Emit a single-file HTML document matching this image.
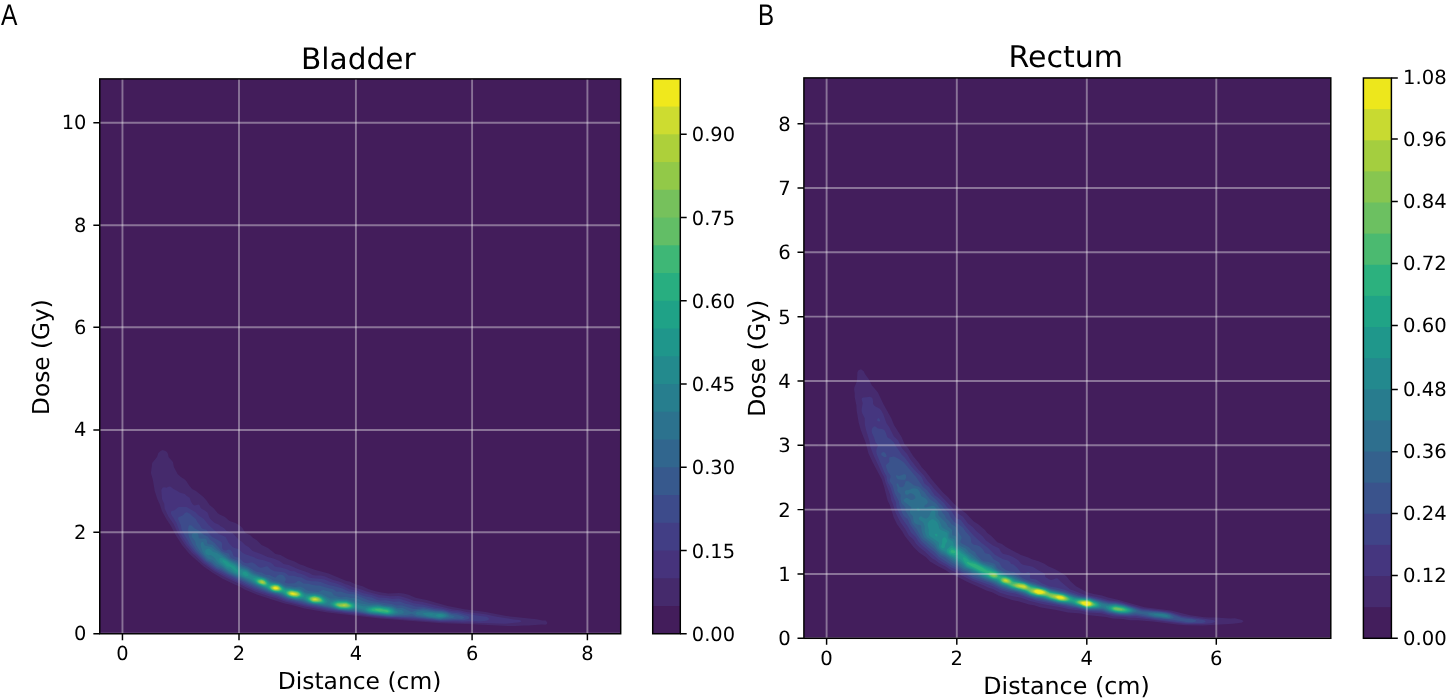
<!DOCTYPE html>
<html lang="en"><head><meta charset="utf-8"><title>Bladder / Rectum dose-distance</title>
<style>html,body{margin:0;padding:0;background:#fff;overflow:hidden}svg{display:block;will-change:transform}</style></head>
<body>
<svg width="1447" height="698" viewBox="0 0 1447 698" font-family="'DejaVu Sans','Liberation Sans',sans-serif" fill="#000" text-rendering="geometricPrecision">
<defs>
<clipPath id="clipA"><rect x="99.75" y="78.90" width="520.95" height="554.86"/></clipPath>
<clipPath id="clipB"><rect x="803.90" y="77.90" width="526.90" height="560.40"/></clipPath>
</defs>
<rect width="1447" height="698" fill="#fff"/>
<rect x="99.75" y="78.90" width="520.95" height="554.86" fill="#431d5b"/>
<g clip-path="url(#clipA)" shape-rendering="geometricPrecision">
<path fill="#452a6c" d="M160.5,450.9 162.6,450.1 165.6,451 166.9,451.9 168,453.9 168.6,456.9 172.9,461.9 173.9,466.9 177.6,473.9 180.9,476.9 184.1,478.9 186.3,480.9 188.8,484.9 192.1,488.9 195.6,490.8 203.5,496.9 206.9,500.9 209.6,505 213.6,508.2 217.6,513 219.6,514.5 224.6,516.7 229.6,521 235.6,522.9 240.4,525.9 242.5,527.9 244.6,531.8 245.6,532.9 250.1,534.9 252.6,537.6 256.6,540.1 261.6,545 268,547.9 275.6,553.9 280.6,555.1 287.6,559.1 294.6,561.5 299.6,564.2 303.6,565.5 307.6,567.3 315.6,570 328.6,573.6 346.6,580.9 349.6,581.6 355.6,584.2 362.6,586.3 368.3,588.9 374.6,591 381.6,592.5 388.6,593.4 398.6,593 403.6,593.4 408.6,594.8 415.6,597.8 426.6,600.1 447.7,605.9 464.6,609.2 485.6,612.1 506.6,616 536.6,619.3 542.6,620.5 545.6,620.6 547,621.9 547.3,622.9 546.9,623.9 545.6,624.8 541.6,624.4 528.6,625.5 523.6,625.4 515.6,626 507.6,626.1 472.6,624.2 441.6,623.3 379.6,618.6 327.6,612.4 304.6,608.5 291.9,604.9 284.6,603.4 269.6,598.8 256.6,594.4 244.6,589.5 239.6,586.6 234.6,584.6 222.6,578.8 212.6,572.7 203.6,566.5 189.5,553.9 182,544.9 175.6,534.9 170.9,525.9 166.3,518.9 161.9,510.9 160,504.9 157.3,498.9 154.7,490.9 152.9,479.9 150.9,472.9 152.2,462.9 157,456.9 158.3,452.9Z"/>
<path fill="#46337c" d="M167.8,486.9 169.6,486.4 170.6,486.7 173.6,489.1 177.5,490.9 179.6,492.4 184.8,493.9 186.6,495.7 189.6,497.7 191.2,501.9 192.5,503.9 193.6,504.9 194.6,505.4 195.6,505.3 198.6,504.5 199.4,504.9 200.7,507.9 201.6,508.8 205.6,511 207.6,512.8 209.6,517.9 211.6,520.3 214.9,522.9 218.6,524.6 220.6,526.3 223.9,527.9 226.7,530.9 232.6,532.9 239.1,539.9 241.6,541.6 245.1,544.9 248.6,546.9 252.6,550.9 261.6,554.2 267.6,557 273.6,558.5 279.6,560.9 283.6,563.9 288.8,564.9 297.9,568.9 308.6,572.8 312.6,574.9 315.6,575.4 320.6,575.5 324.6,576.3 332.6,579.8 340.6,582 345.6,584.3 348.6,585.1 352.7,586.9 360.6,589.2 366.6,591.6 379.6,595.1 390.6,596.3 397.6,596 400.6,596.3 408.6,598.8 413.6,600.8 422.6,602.1 451.6,609.2 459.6,610.2 466.6,611.9 485.6,614.3 496.6,616.8 508.6,618.4 513.6,619.6 519.6,619.9 521.5,620.9 520.7,621.9 519.6,622.2 505.6,623.8 490.6,623.2 478.6,623.1 472.6,622.6 463.6,622.7 440.6,622.1 379.6,617.4 327.6,610.9 312.6,607.9 306.6,607.1 285.6,601.7 275.6,598 269.6,596.5 255.6,591.7 244.6,586.8 240.6,584.6 225.6,577.6 214.6,571.5 202.6,562.9 195.6,555.9 192,552.9 185.6,545.5 178.7,534.9 173.6,524 168.6,516.9 164.6,508.4 164.3,503.9 162,498.9 161.3,489.9 162.6,487.5 164.6,487.2 166.6,487.8Z"/>
<path fill="#423e85" d="M177.2,507.9 178.6,507.1 186.6,507.1 195.3,511.9 198.6,515.5 203.6,518.8 208.7,524.9 218.5,533.9 223.7,535.9 225.6,537.1 228.8,542.9 232.6,546.9 234.6,548 238.6,548.9 242.6,552.7 244.6,554 253.5,556.9 257.6,559.1 263.6,560.2 270.6,562.4 272.6,563.9 274.3,565.9 275.6,566.7 280.6,567.5 285.6,568.8 290.6,570.9 294.6,571.2 297.6,572.9 301.6,573.9 304.2,574.9 309.6,577.8 321.6,578.9 324.6,579.6 330.6,582 335.6,583.3 343.6,586.3 349.6,589.2 356.6,590.6 362.6,593.1 371.6,595.1 378.6,597.6 386.6,598.1 392.6,599.1 397.6,598.5 399.6,598.7 413.6,603.3 423.6,604.8 435.6,607.7 441.6,608.4 451.6,611.1 458.6,611.6 463.6,613.1 476.6,615.5 486.6,616.8 488.6,617.9 489,618.9 488.3,619.9 486.6,620.8 479.6,621.5 472.6,620.8 462.6,621.5 456.6,621.1 440.6,621.2 413.6,618.8 397.6,617.7 389.6,617.6 369.6,615.5 354.6,613.1 346.6,612.4 326.6,609.7 321.6,608.4 306.6,605.8 286.6,600.7 277.3,596.9 270.6,595.1 260.6,591.7 254.6,589.5 245.6,585.4 227.6,576.7 215.6,570.4 205,562.9 197.6,555.5 193.6,552 187,543.9 180.6,533.9 176.4,522.9 171,513.9 170.9,511.9 171.6,511.1 174.6,510.2Z"/>
<path fill="#3d4b8b" d="M185,512.9 186.6,512.3 187.6,512.5 190.2,513.9 191.6,515.5 195.9,518.9 197.3,521.9 199.8,524.9 201.6,528.1 203,528.9 206.6,529.7 208.3,532.9 211.6,536.6 221.4,541.9 222.1,543.9 222,547.9 223.5,549.9 225.6,550.4 228.6,549.6 230.6,550.1 232.2,551.9 233.6,556 235.3,556.9 238.6,557.5 243.3,561.9 244.6,562.7 247.6,563.3 250.6,562.6 252.6,562.6 255.1,563.9 258.7,566.9 260.6,567.7 262.6,567.6 266.6,566.2 267.6,566.6 270.6,569.3 274.6,571.3 283.6,572.2 285.6,573.1 288.6,575.4 290.6,575.8 293.6,575.7 297.5,576.9 301.6,577.5 306.6,580.3 311.6,581.2 315.6,581.2 320.6,582.1 328.6,585 333.6,585.9 342.6,588.5 348.6,591.4 354.6,592.2 360.6,594.8 365.6,596.4 371.6,597.5 377.3,599.9 380.6,600.4 385.6,600.2 393.6,601.8 399.6,601.4 405.6,603.7 409.6,604.5 415.6,606.5 423.6,606.7 434.6,609.1 443.6,610.1 451.6,612.5 458.6,613.2 467.8,615.9 469.2,616.9 469.4,617.9 468.5,618.9 467.6,619.3 463.6,620.3 456.6,620.1 440.6,620.5 412.6,617.6 396.6,616.9 390.6,617.1 370.6,614.9 355.6,612.3 346.6,611.7 337.6,610.5 307.6,605 286.6,599.5 278.1,595.9 268.6,593.2 254.6,587.9 245.6,583.8 240.6,581 236.6,579.5 232,576.9 227.6,575.1 222.2,571.9 215.6,568.8 204.8,560.9 195.6,551.8 189.5,543.9 187.6,539.9 184.9,535.9 181.7,529.9 180.8,524.9 178.4,519.9 178,517.9 178.9,516.9 182.6,515.6Z"/>
<path fill="#37598d" d="M189.8,524.9 191.6,525.4 194.1,527.9 199.7,530.9 203.6,534.4 207.6,536.5 210.6,540 214.6,543 221.7,550.9 224.6,552.6 228.6,553.4 229.2,553.9 230.3,556.9 231.6,558.1 233.6,559.1 237.6,560.4 242.6,564.7 247.6,566.5 255.6,571.2 257.6,572 261.6,572.4 265.6,574.7 269.6,575 274.6,577.5 275.6,577.4 277.6,575.6 279.6,574.6 282.6,575 284,575.9 285.5,577.9 285.8,579.9 284.7,581.9 285.6,583 288.6,583.6 294.6,583.2 297.6,581.3 299.6,580.9 303.6,583.4 308.6,583.7 311.6,584.7 316.6,585.5 319.6,585.4 328.6,588.3 331.6,588.7 333.6,589.6 336.6,591.7 340.6,591.5 345.6,593.2 349.6,594.1 353.6,594.2 368.6,600.3 374.6,601.6 391.6,603.9 396.6,605.6 401.6,605.3 412.6,608.7 415.6,608.9 423.6,608.3 434.6,610.3 442.6,610.9 445.6,611.6 451.6,613.8 456.6,614.5 461.7,615.9 464.1,616.9 464.3,617.9 461.8,618.9 457.6,618.8 440.6,619.9 417.6,617.3 412.6,616.2 405.6,616.5 396.6,616.2 391.6,616.5 386.6,616.2 370.6,614.4 355.6,611.4 347.6,611.2 338.6,610.1 321.6,606.5 308.6,604.3 301.6,602.1 286.6,598.6 279.6,595.4 268.6,592.2 254.6,586.4 241.3,579.9 236.6,578.1 232.6,575.9 227.6,573.8 221.6,570 216.6,567.9 210.6,563.1 206.6,560.9 196.4,549.9 191.9,542.9 189.4,537.9 188.4,534.9 188,528.9 188.6,526Z"/>
<path fill="#31668e" d="M193.4,532.9 196.6,532.7 197.6,533.3 198.4,534.9 198.8,537.9 199.6,538.5 204.6,538.4 206,538.9 206.8,539.9 207.2,542.9 208,543.9 212.6,544.7 216.8,548.9 222.6,553.2 226.6,555.6 230.3,558.9 236.9,561.9 241.6,566.1 247.6,568.2 255.2,572.9 268.6,577.7 273.6,580.7 279.6,582.1 285.6,585.6 291.6,586.2 294.6,587 298.6,586.5 300.6,586.7 303.7,587.9 305.9,589.9 308.6,591 318.6,591.9 322.6,590.1 323.6,590 326.6,591.1 331.5,591.9 333.6,594.9 334.6,595.6 339.2,596.9 341.6,597.3 346.6,596.7 350.6,598.1 354.6,598 358.6,599 362.6,601.1 369.6,603.1 378.6,603.6 384.6,604.9 391.6,605.6 397.4,607.9 402.6,608.1 411.6,611.9 416.6,610.3 422.6,609.6 435.6,611.3 441.6,611.6 446.6,612.8 451.6,615.3 453.9,615.9 454.8,616.9 452.6,617.9 440.6,619.3 417.6,616.3 415.9,615.9 411.6,613.7 408.6,614.8 406.6,615.1 396.6,615.4 391.6,615.9 386.6,615.7 370.6,613.9 356.6,610.7 347.6,610.6 338.6,609.7 330.6,607.5 311.6,604.2 307.6,603.3 301.6,601 296.6,600.3 288.6,598.4 280.6,594.8 270.6,592.3 255.6,585.7 241.6,578.7 237.6,577.3 228.6,573.1 221.6,568.5 216,565.9 211.6,561.9 208.6,560.6 206.6,559.2 200.4,551.9 196,544.9 195,540.9 191.9,536.9 191.6,535.9 191.8,533.9Z"/>
<path fill="#2c728e" d="M201.6,541.9 202.6,541.8 203.6,542.4 204.4,544.9 205.6,545.7 211.6,546.9 214.6,549.8 218.6,552 230.6,560.4 236.6,563.3 240.6,567.1 247.6,569.4 252.3,572.9 254.4,573.9 266.6,578.1 271.6,581.4 279.6,583.2 285.6,586.8 299.6,588.6 301.6,589.5 305,591.9 307.6,592.8 314.6,593 321.6,594.1 330.6,598.5 335.6,598.3 341.6,599.1 346.6,599 355.6,601.4 358.9,602.9 362.6,603.7 369.6,604.7 378.6,604.6 384.5,605.9 390.6,606.5 393.6,607.4 397.6,609.5 401.7,609.9 403.2,610.9 403.9,611.9 403.8,612.9 401.6,614 392.6,615.3 387.6,615.3 370.6,613.4 356.6,609.6 348.6,610.2 339.6,609.4 335.6,608.5 328.6,606.2 310.6,603.5 302.6,600.3 295.6,599.5 290.6,598.4 286.6,597.1 280.6,594 271.6,592.1 265.4,588.9 256.6,585.3 248.6,580.9 241.6,577.6 237.6,576.2 228.6,571.8 221.6,566.8 216.6,564.1 212.6,560 209,558.9 207.6,558.1 204.5,554.9 202.2,550.9 200.6,544.9 200.9,542.9ZM416.7,611.9 422.6,610.9 435.6,612.2 441.6,612.4 446.6,613.7 448.3,614.9 449,615.9 448.6,616.9 446.6,617.6 441.6,618.6 438.6,618.5 429.6,617.4 421.6,615.6 417.6,615.1 415.8,613.9 415.7,612.9Z"/>
<path fill="#277e8e" d="M206.8,548.9 208.6,548.6 210,548.9 212.6,551.5 216.8,552.9 226.6,558.7 230.6,561.5 235.5,563.9 240.6,568.5 246.6,570 251.6,573.8 253.6,574.8 265.6,578.4 270.6,582.1 279.6,584 285.6,587.7 298.6,589.4 300.6,590.2 304.6,593.1 306.6,593.8 313.6,593.8 319.6,594.6 321.6,595.3 329.6,600.1 330.6,600.4 336.6,599.5 346.6,600.1 353.6,602.2 358.6,605.1 363.6,606.2 377.6,605.3 384.6,606.6 389.6,607.1 393.6,608.5 398.1,611.9 397.3,612.9 393.6,614.3 387.6,614.8 370.6,612.9 367.4,611.9 362.6,609.4 357.6,608.3 349.6,609.7 340.6,609.2 335.6,608.1 327.6,604.7 323.6,604.7 313.6,603.7 308.6,602.3 302.6,599.3 294.6,598.8 288.6,597.3 281.6,593.6 274.6,592.5 271.6,591.6 265.6,588.2 256.6,584.6 248.6,579.6 234.9,573.9 227.6,569.9 218.4,562.9 214.6,558 211.6,555.4 210.6,555.1 208.6,555.5 206.6,554.5 205.4,552.9 205.1,550.9 205.6,549.8ZM423.5,612.9 430.6,612.6 435.6,613.2 441.6,613.2 444.8,613.9 446.4,614.9 446.6,615.9 445.4,616.9 442.6,617.7 438.6,617.8 426.8,615.9 422.8,613.9Z"/>
<path fill="#238a8d" d="M220.1,557.9 222.6,558.1 225.6,559.3 230.6,562.8 235,564.9 239.6,569.5 241.6,570.3 244.6,570.5 246.6,571 250.6,574.6 252.6,575.7 261.6,577.5 264.6,578.6 266.9,579.9 270.4,582.9 278.6,584.1 280.6,585 285.6,588.5 290.6,588.7 299.6,590.5 305.6,594.8 314.6,594.4 320.6,595.7 325.6,598.9 327.3,600.9 327.4,601.9 325.6,603.5 323.6,604 313.6,603.3 309,601.9 303.6,598.5 295.6,598.5 291.6,597.7 287.6,596.4 281.7,592.9 275.6,592.3 271.6,591.2 266.5,587.9 256.6,583.9 249.6,578.6 244.6,576.9 240.6,574.7 235,572.9 230.6,569.4 226.6,567.8 220,561.9 219.4,560.9 219.1,558.9ZM334.1,600.9 337.6,600.3 346.6,600.8 353.6,603.2 354.7,603.9 356.1,605.9 355.8,606.9 354.5,607.9 350.6,609.1 345.6,609.2 338.6,608.5 334.1,606.9 331,604.9 330.2,603.9 330.1,602.9 330.6,602.5ZM368.7,606.9 377.6,606.1 388.6,607.6 392.6,608.9 394.7,610.9 395,611.9 394.4,612.9 392.6,613.8 388.6,614.4 370.6,612.3 367,610.9 365.8,609.9 365.4,608.9 365.9,607.9ZM429.1,614.9 430.6,614.2 433.6,614.9 431.6,615.2ZM435.4,614.9 438.6,614.1 440.6,614.1 443.8,614.9 444,615.9 441.6,616.9 438.6,616.9 436.1,615.9Z"/>
<path fill="#1f968b" d="M222.2,560.9 222.6,560.3 223.6,560.1 225.6,560.7 227.7,561.9 230.6,564.5 234.6,566.4 238.2,570.9 238,571.9 235.6,571.6 230.6,567.1 227.6,566.6 226.6,566ZM243.3,571.9 245.6,571.8 246.6,572.4 248,573.9 248.4,574.9 248.4,575.9 247.6,576.2 245.6,576.1 243.6,574.9 242.2,572.9ZM253.2,577.9 258.6,577.6 263.6,578.6 266.6,580.3 269.6,583.4 278.6,584.5 280.6,585.5 283.6,588.1 285.6,589.3 290.6,589.2 298.6,590.7 300.8,591.9 302.9,593.9 304.2,595.9 303.8,596.9 297.6,598 293.6,597.8 287.6,595.9 282.6,592.4 276.6,592 272.6,591.2 270.1,589.9 266.6,587.2 260.6,585.3 256.6,583.3 253.7,579.9 253.1,578.9ZM307.4,595.9 313.6,594.9 319.6,595.9 321.7,596.9 324.3,598.9 325.4,600.9 325.2,601.9 324.3,602.9 321.6,603.5 315.6,603.2 311.6,602.5 308.4,600.9 306.2,598.9 305.2,596.9ZM333.8,601.9 337.6,601 346.6,601.3 353.2,603.9 354.3,604.9 354.6,605.9 354.2,606.9 352.8,607.9 349.6,608.7 345.6,608.8 339.6,608.4 335.1,606.9 332.4,604.9 332,603.9 332.4,602.9ZM373.5,606.9 378.6,606.7 388.6,608.3 392.3,609.9 393.1,610.9 393.2,611.9 391.6,613.2 387.6,613.9 371.1,611.9 368.6,610.9 367.5,609.9 367.5,608.9 368.9,607.9Z"/>
<path fill="#1fa287" d="M255.7,578.9 257.6,578.3 259.6,578.2 263.6,579.1 266.5,580.9 268.6,583.8 269.6,584.4 275.6,584.3 278.6,584.9 281.7,586.9 284.6,590 285.6,590.3 290.6,589.7 298.6,591.2 300.6,592.4 302,593.9 302.4,594.9 302.3,595.9 300.8,596.9 298.6,597.5 293.6,597.4 288.4,595.9 286.8,594.9 283.6,591.7 276.6,591.7 272.6,590.8 270.6,589.7 267.6,586.8 261.6,585.3 257.6,583.4 255.4,580.9 255.2,579.9ZM310,595.9 314.6,595.4 319.6,596.4 321.6,597.5 323.3,598.9 324.2,600.9 323.9,601.9 322.6,602.7 319.6,603 314.6,602.8 311.1,601.9 308.1,599.9 307.2,597.9 307.7,596.9ZM335.9,601.9 338.6,601.6 346.6,601.8 351.9,603.9 353.1,604.9 353.4,605.9 352.9,606.9 351.6,607.7 348.6,608.4 343.6,608.4 339,607.9 336.1,606.9 333.5,604.9 333.3,603.9 333.9,602.9ZM372,607.9 374.6,607.4 378.6,607.4 387.6,608.7 390.6,609.9 391.4,610.9 391.4,611.9 389.6,613.1 386.6,613.4 371.6,611.3 370.3,610.9 369.2,609.9 369.6,608.9Z"/>
<path fill="#28ae80" d="M258.2,578.9 261.6,578.9 264.6,580 266.7,581.9 267.7,584.9 266.6,585.4 263.6,585.4 258.6,583.5 256.8,581.9 256.3,580.9 256.6,579.7ZM271.3,584.9 274.6,584.6 278.6,585.3 281.1,586.9 282.6,588.9 282.8,589.9 281.5,590.9 278.6,591.4 275.6,591.3 272.6,590.5 270.2,588.9 268.9,586.9 268.8,585.9ZM286.7,590.9 290.6,590.1 297.6,591.2 300.4,592.9 301.5,594.9 300.6,596.2 297.6,597.2 294.6,597.3 291.6,596.7 288.6,595.6 286.5,593.9 285.7,591.9ZM312.4,595.9 315.6,595.9 319.7,596.9 322.4,598.9 323.2,600.9 322.6,601.9 320.6,602.5 314.6,602.5 311.6,601.7 308.9,599.9 308.3,598.9 308.3,597.9 309.6,596.7ZM335.3,602.9 338.6,602.1 346.6,602.3 350.7,603.9 352,604.9 352.3,605.9 351.6,606.9 348.6,608 340.6,607.9 337.6,607.1 335.4,605.9 334.5,604.9 334.4,603.9ZM372,608.9 375.6,608 379.6,608 387.6,609.4 389,609.9 389.9,610.9 389.6,612 388.6,612.6 386.6,612.9 373,610.9 371.3,609.9Z"/>
<path fill="#3eb776" d="M257.7,579.9 260.6,579.2 263.6,579.9 266.1,581.9 266.7,583.9 265.6,584.9 264.6,585 260.6,584.1 258.4,582.9 257.5,581.9 257.2,580.9ZM270.4,585.9 272.6,585.1 274.6,584.9 278.6,585.6 281.4,587.9 281.8,588.9 281.6,589.9 278.6,591 273.6,590.6 271.6,589.6 270.1,587.9 269.8,586.9ZM288.3,590.9 291.6,590.5 297.6,591.6 299.8,592.9 300.5,593.9 300.7,594.9 299.6,596.1 296.6,597 293.6,596.8 290.6,596.1 288.2,594.9 287.2,593.9 286.7,592.9 286.9,591.9ZM310.4,596.9 314.6,596.2 318.6,596.9 320.5,597.9 321.6,598.9 322.2,599.9 322.2,600.9 320.9,601.9 319.6,602.1 315.6,602.2 312.6,601.7 310.6,600.7 309.1,598.9 309.3,597.9ZM337,602.9 344.6,602.5 346.6,602.7 349.5,603.9 350.8,604.9 351.2,605.9 350.3,606.9 347.6,607.7 343.6,607.8 339.6,607.3 336.6,606.1 335.4,604.9 335.5,603.9ZM376,608.9 380.6,608.8 383.6,609.8 386.6,609.9 388.4,610.9 388,611.9 386.6,612.1 383.6,611.3 379.6,611.4 374.4,609.9Z"/>
<path fill="#62be66" d="M259,579.9 261.6,579.7 264.6,580.9 265.9,582.9 265.7,583.9 263.6,584.5 261.6,584.1 259.6,583.2 258.2,581.9 258,580.9ZM271.5,585.9 274.6,585.2 277.6,585.6 280,586.9 281.1,588.9 280.6,589.9 278.6,590.6 275.6,590.7 273.6,590.3 271.6,589.2 270.6,587.9 270.6,586.9ZM290.1,590.9 292.6,591 297.6,592.1 299.1,592.9 299.9,593.9 299.9,594.9 299,595.9 296.6,596.6 293.6,596.5 290.6,595.8 288.9,594.9 287.8,593.9 287.4,592.9 287.8,591.9ZM311.8,596.9 314.6,596.6 318.6,597.4 320.8,598.9 321.4,599.9 321.2,600.9 319.6,601.6 316.7,601.9 312.6,601.4 310.3,599.9 309.9,598.9 310.1,597.9ZM343.6,602.9 346.6,603.2 349.8,604.9 350,605.9 348.6,607 345.6,607.4 340.6,607.1 337.6,606.1 336.4,604.9 336.7,603.9 337.6,603.4Z"/>
<path fill="#76c15c" d="M258.9,580.9 260.6,580.1 262.6,580.3 264.6,581.5 265.3,582.9 264.6,583.9 261.6,583.7 259.6,582.6 259,581.9ZM272.6,585.9 274.6,585.6 277.6,585.9 279.4,586.9 280.2,587.9 280.4,588.9 279.6,589.9 277.6,590.4 273.6,590 271.8,588.9 271.2,587.9 271.2,586.9ZM288.6,591.9 291.6,591.2 296.6,592.1 298.6,593.1 299.2,593.9 299.2,594.9 297.9,595.9 296.6,596.2 291.6,595.8 289.5,594.9 288.4,593.9 288.1,592.9ZM311,597.9 313.6,597 316.6,597.2 318.7,597.9 320,598.9 320.5,599.9 319.9,600.9 318.6,601.3 313.6,601.3 311,599.9 310.6,598.9ZM338.4,603.9 345.6,603.4 347.3,603.9 348.7,604.9 348.8,605.9 346.6,606.9 341.5,606.9 338.3,605.9 337.5,604.9Z"/>
<path fill="#92c948" d="M260,580.9 261.6,580.5 263.1,580.9 264.3,581.9 264.5,582.9 263.6,583.5 262.6,583.5 260.7,582.9 259.7,581.9ZM274.3,585.9 276.6,586 278.6,586.8 279.7,587.9 279.8,588.9 278.6,589.8 277.6,590.1 275.6,590.1 273.6,589.6 272.4,588.9 271.7,587.9 271.9,586.9ZM289.6,591.9 291.6,591.6 296.6,592.6 298.5,593.9 298.4,594.9 295.6,596 291.6,595.4 290.2,594.9 289,593.9 288.8,592.9ZM312,597.9 313.6,597.4 316.6,597.7 319.1,598.9 319.5,599.9 317.6,601 313.6,601 311.7,599.9 311.3,598.9ZM343.2,603.9 345.5,603.9 346.6,604.3 347.5,604.9 347.5,605.9 344.6,606.5 339.7,605.9 338.9,604.9Z"/>
<path fill="#add03a" d="M260.6,581.9 261.6,581.2 263.5,581.9 263.3,582.9 262.6,583ZM272.6,586.9 274.6,586.2 277.6,586.6 279.1,587.9 279.1,588.9 276.6,589.9 274.6,589.6 272.6,588.4 272.3,587.9ZM289.4,592.9 290.6,592.1 292.6,592 296.4,592.9 297.8,593.9 297.5,594.9 296.6,595.3 293.6,595.5 290.6,594.6 289.6,593.9ZM313.4,597.9 316.6,598.2 318,598.9 318.2,599.9 315.6,600.8 313.6,600.5 312.4,599.9 312.1,598.9ZM342.1,604.9 344.6,604.6 345.9,604.9 345.6,605.6 344.6,605.9 343.3,605.9Z"/>
<path fill="#cddc30" d="M273.5,586.9 275.6,586.6 277.3,586.9 278.5,587.9 278.3,588.9 275.6,589.5 273.7,588.9 272.9,587.9ZM290.3,592.9 292.6,592.5 294.8,592.9 296.8,593.9 296.2,594.9 292.6,595 290.4,593.9ZM313.1,598.9 314.6,598.5 315.6,598.6 316.5,598.9 316.6,599.9 313.6,599.9Z"/>
<path fill="#f0e81c" d="M273.6,587.9 274.6,587.1 275.6,586.9 277.7,587.9 277.2,588.9 275.6,589.1 274.6,588.9ZM291.3,593.9 291.6,593.1 292.6,593 295.2,593.9 293.6,594.5Z"/>
</g>
<path d="M122.46,78.90V633.76M239.00,78.90V633.76M355.90,78.90V633.76M472.10,78.90V633.76M587.40,78.90V633.76" stroke="#f2f2f2" stroke-opacity="0.40" stroke-width="1.90" fill="none"/>
<path d="M99.75,633.76H620.70M99.75,532.25H620.70M99.75,430.00H620.70M99.75,327.30H620.70M99.75,225.20H620.70M99.75,122.74H620.70" stroke="#f2f2f2" stroke-opacity="0.40" stroke-width="1.90" fill="none"/>
<path d="M122.46,633.76v6.40M239.00,633.76v6.40M355.90,633.76v6.40M472.10,633.76v6.40M587.40,633.76v6.40M99.75,633.76h-6.40M99.75,532.25h-6.40M99.75,430.00h-6.40M99.75,327.30h-6.40M99.75,225.20h-6.40M99.75,122.74h-6.40" stroke="#000" stroke-width="1.46" fill="none"/>
<rect x="99.75" y="78.90" width="520.95" height="554.86" fill="none" stroke="#000" stroke-width="1.46"/>
<text x="122.46" y="660.46" font-size="19.40" text-anchor="middle">0</text>
<text x="239.00" y="660.46" font-size="19.40" text-anchor="middle">2</text>
<text x="355.90" y="660.46" font-size="19.40" text-anchor="middle">4</text>
<text x="472.10" y="660.46" font-size="19.40" text-anchor="middle">6</text>
<text x="587.40" y="660.46" font-size="19.40" text-anchor="middle">8</text>
<text x="86.45" y="640.16" font-size="19.40" text-anchor="end">0</text>
<text x="86.45" y="538.65" font-size="19.40" text-anchor="end">2</text>
<text x="86.45" y="436.40" font-size="19.40" text-anchor="end">4</text>
<text x="86.45" y="333.70" font-size="19.40" text-anchor="end">6</text>
<text x="86.45" y="231.60" font-size="19.40" text-anchor="end">8</text>
<text x="86.45" y="129.14" font-size="19.40" text-anchor="end">10</text>
<text x="358.30" y="68.90" font-size="29.60" text-anchor="middle">Bladder</text>
<text x="359.50" y="689.00" font-size="23.40" text-anchor="middle">Distance (cm)</text>
<text transform="translate(49.30,357.00) rotate(-90)" font-size="23.25" text-anchor="middle">Dose (Gy)</text>
<rect x="652.70" y="78.80" width="27.60" height="554.96" fill="#431d5b"/>
<rect x="652.70" y="78.80" width="27.60" height="527.21" fill="#452a6c"/>
<rect x="652.70" y="78.80" width="27.60" height="499.46" fill="#46337c"/>
<rect x="652.70" y="78.80" width="27.60" height="471.72" fill="#423e85"/>
<rect x="652.70" y="78.80" width="27.60" height="443.97" fill="#3d4b8b"/>
<rect x="652.70" y="78.80" width="27.60" height="416.22" fill="#37598d"/>
<rect x="652.70" y="78.80" width="27.60" height="388.47" fill="#31668e"/>
<rect x="652.70" y="78.80" width="27.60" height="360.72" fill="#2c728e"/>
<rect x="652.70" y="78.80" width="27.60" height="332.98" fill="#277e8e"/>
<rect x="652.70" y="78.80" width="27.60" height="305.23" fill="#238a8d"/>
<rect x="652.70" y="78.80" width="27.60" height="277.48" fill="#1f968b"/>
<rect x="652.70" y="78.80" width="27.60" height="249.73" fill="#1fa287"/>
<rect x="652.70" y="78.80" width="27.60" height="221.98" fill="#28ae80"/>
<rect x="652.70" y="78.80" width="27.60" height="194.24" fill="#3eb776"/>
<rect x="652.70" y="78.80" width="27.60" height="166.49" fill="#62be66"/>
<rect x="652.70" y="78.80" width="27.60" height="138.74" fill="#76c15c"/>
<rect x="652.70" y="78.80" width="27.60" height="110.99" fill="#92c948"/>
<rect x="652.70" y="78.80" width="27.60" height="83.24" fill="#add03a"/>
<rect x="652.70" y="78.80" width="27.60" height="55.50" fill="#cddc30"/>
<rect x="652.70" y="78.80" width="27.60" height="27.75" fill="#f0e81c"/>
<text x="691.80" y="640.86" font-size="19.40" text-anchor="start">0.00</text>
<text x="691.80" y="557.62" font-size="19.40" text-anchor="start">0.15</text>
<text x="691.80" y="474.37" font-size="19.40" text-anchor="start">0.30</text>
<text x="691.80" y="391.13" font-size="19.40" text-anchor="start">0.45</text>
<text x="691.80" y="307.88" font-size="19.40" text-anchor="start">0.60</text>
<text x="691.80" y="224.64" font-size="19.40" text-anchor="start">0.75</text>
<text x="691.80" y="141.40" font-size="19.40" text-anchor="start">0.90</text>
<path d="M680.30,633.76h6.40M680.30,550.52h6.40M680.30,467.27h6.40M680.30,384.03h6.40M680.30,300.78h6.40M680.30,217.54h6.40M680.30,134.30h6.40" stroke="#000" stroke-width="1.46" fill="none"/>
<rect x="652.70" y="78.80" width="27.60" height="554.96" fill="none" stroke="#000" stroke-width="1.46"/>
<rect x="803.90" y="77.90" width="526.90" height="560.40" fill="#431e5c"/>
<g clip-path="url(#clipB)" shape-rendering="geometricPrecision">
<path fill="#462b6f" d="M858.5,370.2 861,369.3 863.7,371.2 865,374.1 869,379.5 871.8,385.2 877.8,392.2 883.5,404.2 891.3,418.2 894,425 901.7,437.2 904.6,444.2 908.3,448.2 913.3,456.2 918.3,462.2 921.7,467.2 925.5,471.2 933,481.1 943,492.5 948.1,497.2 954,503.8 962,510.5 966,513.3 973.5,521.2 978.2,524.2 985,530.1 987,532.8 991.6,536.2 997.3,542.2 1002,544.1 1006,546.9 1021,555 1027.7,557.2 1032,559.3 1038,560.9 1044,563.6 1048.2,566.2 1055.1,569.2 1064,574.3 1066.3,576.2 1070.5,581.2 1076,586.2 1087,592.3 1094,594.1 1102,595.5 1108,597.5 1118,599.7 1144.5,607.2 1171,610.6 1190.1,615.2 1204.6,617.2 1209,617.6 1216,617.5 1230,618.5 1235,618.3 1242,620 1243.5,621.2 1242,622.4 1241,622.7 1233,623.7 1203,625.4 1186,625.3 1177,624.6 1153,621.5 1137.7,620.2 1130,620.2 1123,619 1113,618.5 1106,617.1 1087,615.1 1081,613.6 1068,612.4 1055,609.7 1047,608.6 1040,607.2 1034,605.3 1029,604.6 1018.3,601.2 1012,600.1 999,595.8 992,592.3 987,590.7 967,581.7 949,572.5 945,569.8 938,566.2 930,561.5 926,557.2 919,552.5 913.7,547.2 905,536.2 902.1,531.2 897,524.2 893.6,517.2 889.9,505.2 887.5,500.2 884.2,487.2 881.7,479.2 872.6,462.2 868.4,453.2 865.5,442.2 860.8,430.2 858.6,422.2 856.6,410.2 856.4,405.2 854.7,397.2 854.7,393.2 854.1,389.2 854.4,387.2 856.9,381.2 857.4,372.2Z"/>
<path fill="#45367f" d="M866.3,397.2 870,396.7 872,397.8 872.8,399.2 873.2,404.2 875,406.3 879,408.3 881,410.1 883.3,414.2 886.5,423.2 889,426.7 893.8,436.2 898,440.2 902,448.2 907.3,454.2 910,459 918,469.3 923.6,475.2 928,481.6 931.4,485.2 934,488.7 957.7,513.2 963,516.8 968,523.4 973,527.2 976,530.7 982.6,536.2 986,540.4 993,545.4 999,548.2 1001.3,552.2 1003,553.8 1009,555.2 1013,557 1018.2,560.2 1021,563.6 1023,564.8 1032,566.6 1034,567.5 1039,570.8 1044.2,573.2 1045,574.2 1045.1,576.2 1045.7,577.2 1049,579.3 1051,579.9 1053,579.6 1056,578.3 1057,578.2 1058,578.7 1060.3,581.2 1069.9,589.2 1083.4,594.2 1100,597.8 1109,600.2 1119,601.6 1142,608.3 1162,610.4 1169,611.5 1182,615.4 1190,616.8 1213,620 1213.9,620.2 1215.3,621.2 1214.3,622.2 1211.3,623.2 1204,624 1185,624 1142,618.4 1135,617.8 1129,617.8 1125,617.1 1114,616.4 1101,613.3 1088,612.4 1080,610.6 1069,609.3 1062,607.4 1042,603.9 1030,600.9 1021,597.8 1008,595.2 1000,592.8 993,589 988,587.4 983.5,585.2 972,580.7 965,576.9 961,575.2 956,572.2 951,570.2 946,566.8 939.2,563.2 935,560 931.9,558.2 924.6,551.2 919.4,547.2 916,543.7 913.2,539.2 909,535.7 905.4,529.2 900.4,522.2 895.8,513.2 892.6,503.2 891.2,500.2 890.3,495.2 885.4,482.2 884.2,477.2 881.9,473.2 873.1,454.2 870.1,446.2 869.5,441.2 866.1,430.2 864.8,424.2 864.7,418.2 862.2,413.2 861.7,411.2 861.6,409.2 862.7,403.2 861.6,399.2 861.9,398.2 863,397.5Z"/>
<path fill="#404488" d="M877.2,419.2 878,418.3 879,418.2 880.2,420.2 880,421.3 879,421.6 878,421.2 877.1,420.2ZM873,427.2 874,426.4 875,426.3 878,428.5 883,429.2 884.4,430.2 885.6,432.2 887.3,437.2 891,439.4 893.8,442.2 895.4,445.2 902,455.1 905,457.7 911.2,466.2 917,472.6 921,476.3 922.2,478.2 924,482.7 925,484.1 929,487.1 934.7,495.2 938,497.6 944,502.9 947.2,507.2 951.6,511.2 956,517.9 957,518.7 960,519.6 961,520.3 965.5,526.2 974,535.9 982,543.2 988,547.8 995,554.8 1003,559.2 1008,560.5 1010.2,562.2 1011,563.9 1013,564.2 1017,567.5 1020.7,572.2 1024,573.3 1025,573.3 1028,572.1 1029,572.3 1030,573.2 1030.2,574.2 1029.8,577.2 1030.2,578.2 1031,578.7 1036,579.6 1041.8,583.2 1049,586.3 1056,587.5 1064,589.6 1069,591.6 1080.5,595.2 1089,596.4 1108,601.3 1116,602.1 1123,603.5 1142,609.3 1166,611.9 1171,613 1182,616.7 1202,619.7 1204.1,620.2 1205.8,621.2 1205.1,622.2 1202,622.9 1187,623.2 1157,619.4 1136,616.1 1129,616.3 1117,615.5 1108,613.7 1102,611.7 1087,610.9 1077,608.6 1069,607.5 1063,605.9 1036,600.5 1015,593.5 1009,592.6 1005,591.2 1001,590.3 992.9,586.2 973,578.9 966,575 961,573 956,569.6 951,567.6 947,564.7 943,562.6 939,559.9 920.9,544.2 918.2,541.2 916,537.4 911,532.4 908,526.7 902,518.6 899,513.1 897,508.2 896.3,506.2 896,502.4 894.4,499.2 890.4,487.2 887.2,481.2 886.5,476.2 884.2,472.2 876.8,454.2 876.2,451.2 876.4,449.2 877.8,446.2 877.8,445.2 875.5,442.2 874,437.2 872.1,433.2 871.6,430.2 872,428.7Z"/>
<path fill="#3a538c" d="M882.4,452.2 884,452.1 886,454.1 886.7,456.2 886,456.9 884,457.1 881.5,455.2 881.1,454.2 881.4,453.2ZM889.6,457.2 894,456.4 899,459.1 903.6,462.2 916.3,477.2 923,486.9 927.2,490.2 931,495.2 936.7,500.2 939,503 942.5,506.2 945,509.7 948.1,512.2 948.9,513.2 950,516.3 953.7,521.2 955,522.4 959,524.4 963,527.8 965.3,531.2 969.8,536.2 970.8,538.2 971.3,542.2 971.9,543.2 974,544.7 977.2,545.2 980,546.6 982.8,549.2 985,552.9 986,553.5 989,554.1 990.7,555.2 993.6,559.2 999,562.2 1001.9,567.2 1006.3,570.2 1010,571.6 1014,571.9 1022.7,578.2 1030,581.2 1035,582.4 1041.5,585.2 1050.6,588.2 1065,591.5 1077,595.4 1083,596.7 1090,597.5 1108,602.3 1116,602.9 1124,604.4 1142,610.3 1161,611.8 1167,612.8 1170,613.5 1181,617.8 1185,618.6 1192.6,619.2 1195.9,620.2 1196.4,621.2 1192.9,622.2 1188,622.3 1174,620.1 1156,618.3 1136,614.7 1128,615.3 1118,614.8 1108,612.7 1102,610.5 1087,610 1077,607.6 1058,604 1041,599.9 1035,598.9 1028,596.7 1016.3,592.2 1009,590.7 1002,588.7 991,583.3 973,576.9 967,573.5 962,571.7 957,568 952,565.6 939,556.9 934,551.8 929,548.3 921,540.8 909.8,524.2 907.7,519.2 904.1,516.2 903,514.8 901.7,512.2 900.9,508.2 899.5,505.2 898.8,501.2 894.7,493.2 892.5,485.2 889.7,481.2 889.7,479.2 890.6,477.2 890.4,475.2 888,472 886.1,467.2 886,464.9 889,462.2 889.3,461.2 889.1,458.2Z"/>
<path fill="#34618d" d="M903.7,474.2 905.1,474.2 906.2,475.2 905.9,478.2 905,479.9 898,479.6 897,478.6 895.9,476.2 896,475 899,475.9ZM905.7,481.2 907,480.9 909,481.4 913.8,485.2 919,486.7 922,490.1 924.7,492.2 926.6,495.2 930.1,499.2 936,503.3 940.6,509.2 942.9,513.2 944.8,515.2 946,518.3 949.5,521.2 951.6,524.2 955.1,526.2 957,528.2 958.4,532.2 961.7,537.2 961.6,538.2 960.3,541.2 960.5,542.2 961.4,543.2 968.9,547.2 971.7,550.2 975,552 976.9,555.2 981.9,560.2 984,561.2 988,561.8 994,563.5 995,564.3 997,567.7 998.9,569.2 1007.2,573.2 1014,575 1023.6,580.2 1051,589.3 1063,591.9 1077,596.3 1082,597.2 1089,597.8 1103,602.1 1109,603.3 1116,603.6 1124,605 1132,607.5 1139,610.5 1142,611.4 1160,612.3 1166,613.2 1170,614.3 1173.9,617.2 1173.4,618.2 1171,618.8 1168,618.9 1155,617.3 1149.4,616.2 1144,614.5 1137,613.4 1135,613.4 1128,614.5 1120,614.3 1110,612.4 1102,609.5 1087,609.4 1064.3,604.2 1059,603.5 1042,599.1 1034,597.6 1016.3,591.2 1010,589.8 1003,587.5 999,585.9 994,583.2 973,575 968,572 963,570.3 958,566.6 951,562.3 944.7,557.2 940,555 934,548.8 931,546.6 926,541.8 922.5,539.2 921,537.2 916.7,529.2 911.8,523.2 910.1,518.2 905.6,511.2 905.3,507.2 902,503.8 901.2,502.2 900.4,498.2 900.7,496.2 900.4,494.2 898,492 897.2,490.2 897.5,488.2 896.4,484.2 897,483.2 898,483.8 899.2,486.2 900,487.1 902,487.2 904,486Z"/>
<path fill="#2e6f8e" d="M910.4,489.2 912,488.5 914,488.2 916,488.4 918,489.3 919.9,492.2 921.4,496.2 926,498.5 927.7,501.2 927.9,502.2 927,504 925,505.2 924.1,506.2 924.6,507.2 926,507.4 932,505.7 934,506 935,506.7 938.2,511.2 938.2,514.2 939,516.1 946,522.7 948,526.5 951.5,529.2 952.1,530.2 952.2,534.2 952.6,535.2 955,535.8 956,536.5 957,538.2 957.7,543.2 958.3,544.2 961,546.3 966,548.6 968.9,552.2 972,554.2 978.9,560.2 982,562.1 988,564.3 992,565.2 993,565.7 996,568.9 998,570.2 1006.3,574.2 1013,576.3 1021.2,580.2 1030,583.3 1046,588 1051,590 1064,592.8 1076,596.9 1090,598.6 1103,603 1109,604 1116,604.1 1124,605.5 1132.2,608.2 1136,610.2 1136.9,611.2 1134.7,612.2 1129,613.8 1119,613.7 1110,611.8 1103,608.7 1086,608.8 1071,604.8 1058,602.7 1042,598.2 1036,597.4 1030,595.7 1023,592.6 1010,588.9 1001,585.7 995,582.4 982,577.4 976.1,574.2 972,572.7 969,570.7 964,568.9 954,562.1 945,555.4 941,553.5 937.6,550.2 934,545.5 924,537.2 921.6,531.2 921,525.7 920,524.9 918,524.7 916,523.9 914,522.2 913.5,521.2 912.9,516.2 910.8,514.2 909.8,512.2 910,510.5 911.4,508.2 911.2,507.2 903.7,501.2 903.6,500.2 904,499.2 906,497.9 907,497.8 911,499.9 913,499.7 915.2,498.2 915.2,496.2 913,494.1 911,493.3 910,493.3 907,494.9 906,494.6 904.9,493.2 905,491.3 906,490.3 909,490.1ZM1148,613.2 1154,612.7 1164,613.4 1167.4,614.2 1169.8,615.2 1170.8,616.2 1170.7,617.2 1169,617.9 1167,618 1155,616.5 1150.2,615.2 1148.3,614.2Z"/>
<path fill="#287c8e" d="M916.6,508.2 918,507.6 919,508 919.8,509.2 920,510.3 919,511.2 917,510.7 916.3,509.2ZM931.2,511.2 933,510.4 934,510.5 935,511.2 935.5,512.2 935.4,516.2 936,517.2 939.1,520.2 942,527 943.5,528.2 949,531.2 949.5,532.2 949.5,536.2 949.9,537.2 951,538 954,539.1 954.9,540.2 955.7,544.2 956.4,545.2 964,550.6 966.7,553.2 969.8,555.2 972,557.4 981.6,563.2 987,565.5 991,566.7 996.1,570.2 1004,574.2 1012,577 1016.2,579.2 1030,584 1046,588.5 1051,590.6 1064,593.4 1075,597.4 1090,599 1097,601.3 1103,604 1108,604.7 1116,604.6 1124,606 1132.6,609.2 1133.8,610.2 1133.6,611.2 1131,612.6 1128,613.3 1120,613.3 1115,612.5 1111,611.5 1103,607.6 1096,608.3 1087,608.5 1071,603.9 1058,602.1 1049,599.8 1043,597.8 1036,596.8 1031,595.4 1024.1,592.2 1011,588.6 1006,586.4 1001,584.8 996,581.8 982,576.3 977,573.2 973,571.7 969,569.3 965,567.8 961,564.5 945,553.8 941,551.6 937.8,548.2 936,544.4 934.2,542.2 927.1,537.2 925.9,535.2 924.6,531.2 924.6,526.2 923.5,523.2 922,521.4 919,519.6 918.6,518.2 920,516.4 921,516.2 925,518.5 927,518.3 929.2,516.2 930.5,512.2ZM1153.3,614.2 1156,613.8 1163,613.9 1167.6,615.2 1168.5,616.2 1167,616.9 1165,616.9 1155,615.2Z"/>
<path fill="#23898e" d="M931.8,519.2 933,519.3 935,520.2 937,522 938.2,524.2 939.2,528.2 940,529.2 942,530.6 947,532.5 947.5,533.2 947.7,536.2 948.4,538.2 950,539.7 952.7,541.2 954.2,545.2 955,546.2 968,555.9 970.1,558.2 971.6,559.2 975,560.6 981.6,564.2 991,568.1 1002,574.3 1011,577.4 1016,580.1 1025,582.5 1030,584.6 1035.2,586.2 1045,588.7 1051,591.2 1064,593.9 1075,598.1 1087,598.9 1090,599.4 1098,602.4 1101.4,605.2 1100.9,606.2 1098.7,607.2 1096,607.7 1089,608.2 1086,608 1071,603.1 1059,601.9 1050,599.6 1043.2,597.2 1037,596.5 1033,595.5 1030,594.5 1025,591.9 1011,587.9 1007,586.1 1002,584.5 999.6,583.2 997,581.2 990,578.8 983,575.7 977,572 966.4,567.2 961,562.4 952.6,557.2 948.7,555.2 945,551.8 941,549.6 939.1,547.2 938.7,542.2 929.9,536.2 929.1,535.2 928.5,532.2 928.8,530.2 927.5,524.2 927.7,523.2 928.9,521.2 931,519.4ZM1111.9,605.2 1116,605.1 1124,606.5 1129.1,608.2 1131.2,609.2 1132.1,610.2 1131.7,611.2 1130,612.1 1127,612.8 1121,612.9 1114,611.8 1110,610.4 1108,609.2 1105.9,607.2 1105.5,606.2Z"/>
<path fill="#1f978b" d="M934.8,534.2 936,533.4 937,534.1 937.5,535.2 937.4,536.2 937,536.5 935.7,536.2 934.9,535.2ZM944.8,537.2 946,537.9 947.2,540.2 947.3,541.2 945.4,544.2 944.8,547.2 944,548.2 943,548.4 942,548.1 941.2,547.2 941,546.2 942.1,543.2 942.2,539.2 943,538 944,537.3ZM950.2,546.2 951,545.5 952,545.6 958,550 961.1,553.2 966.1,556.2 970,559.9 975,561.7 986,567.3 996,571.6 1002,575.2 1011,578.1 1015,580.7 1025,583 1031,585.5 1045,589.1 1051,591.7 1063,594 1069,596.2 1074,598.7 1087,599.2 1090,599.8 1097,602.6 1098.9,604.2 1099.2,605.2 1098.6,606.2 1096,607.1 1089,607.8 1086,607.6 1076,604.4 1072,602.5 1059,601.5 1050,599.1 1044,596.9 1035,595.6 1030,594 1025,591.3 1012,587.7 1006.5,585.2 1002,583.8 997,580.1 990,578.1 982,574.1 977.3,571.2 967,566.4 965.5,565.2 962,561 960,559.2 949,554.2 947.2,552.2 946.6,550.2 946.9,549.2ZM1110.3,606.2 1115,605.5 1122,606.5 1127.6,608.2 1129.7,609.2 1130.6,610.2 1130,611.2 1129,611.7 1126,612.4 1121,612.5 1115,611.6 1112,610.7 1109.5,609.2 1108.7,608.2 1108.6,607.2Z"/>
<path fill="#20a486" d="M950.8,548.2 952,547.9 953,548.2 956.3,550.2 958.3,553.2 958.4,554.2 958,554.9 956,555.3 954,555 949.6,553.2 948.8,552.2 948.7,550.2ZM963.3,557.2 965,557.6 970,561.3 975,562.8 987,568.9 996,572.2 1001,575.7 1006,576.8 1010,578.3 1014.1,581.2 1024,583.1 1031,586.2 1044,589.2 1051,592.2 1064,594.7 1069.6,597.2 1073,599.8 1080,599.3 1089,599.9 1096.8,603.2 1097.7,604.2 1097.8,605.2 1096.8,606.2 1095,606.7 1089,607.5 1086,607.3 1076.8,604.2 1073,601.5 1071,601.2 1065,601.7 1059,601.1 1050,598.6 1044,596.4 1038,595.8 1033,594.5 1030,593.4 1026,591.1 1012.1,587.2 1007.9,585.2 1002,583.2 1000.5,582.2 998,579.5 993,578.6 990,577.5 978,570.6 967.1,565.2 965.2,563.2 963.5,560.2 962.8,558.2ZM1112.7,606.2 1116,606 1123,607.1 1128.2,609.2 1129,610.2 1128,611.3 1124,612 1120,612 1115,611.2 1112.2,610.2 1110.8,609.2 1110.3,608.2 1110.6,607.2Z"/>
<path fill="#2cb17e" d="M951.2,550.2 952,549.9 954,550.3 955.1,551.2 955.4,552.2 955,552.9 953,553.2 951,552.2 950.6,551.2ZM966.8,562.2 968,562.1 970,563 975,564 981.6,567.2 987,570.5 996,572.8 998.1,574.2 1000,576.7 1005,577 1008,578 1010.6,579.2 1013,581.5 1014,582 1024,583.5 1031,586.8 1044,589.5 1051,592.7 1064,595.1 1068.5,597.2 1070.3,599.2 1070,600 1068,601 1066,601.3 1059,600.8 1050.2,598.2 1045.3,596.2 1038,595.5 1035,594.7 1031,593.4 1026,590.6 1013.6,587.2 1008,584.7 1002,582.6 1000.5,581.2 999,578.5 994,578.2 990,576.8 985,572.6 980,570.6 969.8,565.2 967.2,563.2ZM1077,600.2 1081,599.7 1089,600.2 1095.4,603.2 1096.4,604.2 1096.4,605.2 1094.4,606.2 1090,607 1087,607.2 1085,606.8 1076.2,603.2 1075.3,602.2 1075.2,601.2ZM1112.1,607.2 1115,606.4 1121,607.2 1124.6,608.2 1126.5,609.2 1127.2,610.2 1125.6,611.2 1123,611.5 1116,611 1113.4,610.2 1112,609.2 1111.5,608.2Z"/>
<path fill="#4bba70" d="M988.3,573.2 990,572.3 995,572.9 997.2,574.2 998.2,576.2 997,577.4 995,577.7 993,577.4 990.2,576.2 989,575.2 988.4,574.2ZM1001.1,578.2 1003,577.4 1006,577.7 1009.7,579.2 1013,582.6 1019,582.9 1024,583.8 1026,584.6 1031,587.5 1040,588.8 1045,590.2 1050,592.9 1063,595.1 1067.5,597.2 1068.6,598.2 1068.9,599.2 1068.1,600.2 1066,600.8 1061,600.8 1051,598 1046,595.9 1036,594.7 1031.7,593.2 1027,590.4 1017.9,588.2 1012.6,586.2 1010,584.7 1003,582.6 1001.3,581.2 1000.8,580.2 1000.6,579.2ZM1079.4,600.2 1086,600.1 1089,600.5 1092.7,602.2 1095,604.3 1094.7,605.2 1091,606.5 1088,606.9 1085,606.5 1077.3,603.2 1076.6,602.2 1076.9,601.2ZM1113.7,607.2 1116,606.9 1122.8,608.2 1124.7,609.2 1125,610.2 1121,611 1115,610.3 1113,609.2 1112.6,608.2Z"/>
<path fill="#6cc061" d="M991.2,573.2 994,573.2 996,574 997,575.2 997,576.2 995,577 991.5,576.2 990.2,575.2 989.9,574.2ZM1002.6,578.2 1005,577.9 1008.7,579.2 1010.1,580.2 1010.8,581.2 1011.2,583.2 1009,583.6 1003.3,582.2 1002,581.2 1001.5,580.2 1001.6,579.2ZM1012.5,584.2 1018,583.3 1024,584.2 1026.3,585.2 1030,588 1031,588.4 1037,588.5 1040,589 1045,590.6 1050,593.5 1060,594.8 1063,595.5 1066.6,597.2 1067.6,598.2 1067.7,599.2 1066.4,600.2 1065,600.5 1060,600.3 1051,597.4 1047,595.5 1037,594.6 1031,592.3 1028,590 1016.2,587.2 1012.8,585.2ZM1078.2,601.2 1081,600.5 1088,600.6 1092,602.2 1093.8,604.2 1093.2,605.2 1090.8,606.2 1088,606.6 1086,606.5 1082.1,605.2 1078.4,603.2 1077.7,602.2ZM1113.9,608.2 1115,607.7 1117,607.7 1119.9,608.2 1122.6,609.2 1121.9,610.2 1117.6,610.2 1114.3,609.2Z"/>
<path fill="#87c650" d="M991.9,574.2 994,574 995,574.2 995.9,575.2 995.2,576.2 993.5,576.2 991.7,575.2ZM1002.5,579.2 1004,578.4 1007,578.9 1009.2,580.2 1009.9,581.2 1009.9,582.2 1009,582.8 1008,582.9 1004.3,582.2 1002.7,581.2 1002.3,580.2ZM1015.4,584.2 1019,583.8 1024,584.6 1027,586.2 1028.4,588.2 1027,589 1025,588.9 1018,587.4 1015.4,586.2 1014.4,585.2ZM1032.5,589.2 1037,588.9 1042,589.8 1045.4,591.2 1048,593.6 1050,594.5 1058,594.9 1062,595.5 1065.8,597.2 1066.7,598.2 1066.6,599.2 1064,600.2 1060,599.9 1052,597.2 1048,594.7 1040,594.7 1037,594.2 1032,592.2 1030.8,591.2 1030.4,590.2 1031,589.6ZM1079.6,601.2 1084,600.7 1089,601.1 1091.3,602.2 1092.4,603.2 1092.8,604.2 1092.1,605.2 1090,606 1086,606.2 1082.9,605.2 1079.3,603.2 1078.7,602.2Z"/>
<path fill="#a4ce3f" d="M1003.5,579.2 1005,578.9 1006.5,579.2 1008.3,580.2 1008.9,581.2 1008,582.3 1005,581.9 1003.6,581.2 1003,580.2ZM1016,585.2 1018,584.4 1024,585 1026.2,586.2 1026.9,587.2 1026.6,588.2 1024,588.4 1018,586.8 1016.7,586.2ZM1032.5,590.2 1036,589.2 1040,589.6 1044.6,591.2 1045.9,592.2 1046.5,593.2 1045,594.1 1038,594.2 1033.2,592.2 1032.2,591.2ZM1055.9,595.2 1059,595.3 1063,596.2 1064.9,597.2 1065.8,598.2 1065.5,599.2 1064,599.7 1062,599.8 1059,599.4 1057,598.6 1052.2,596.2 1053,595.6ZM1081.5,601.2 1086,601 1089,601.5 1091,602.5 1091.7,603.2 1092,604.2 1091.2,605.2 1089,605.9 1087,606.1 1085,605.7 1081.6,604.2 1080.2,603.2 1079.8,602.2Z"/>
<path fill="#c8da31" d="M1003.9,580.2 1005,579.5 1006,579.7 1007.2,580.2 1007.7,581.2 1007,581.5 1005,581.3ZM1018.3,585.2 1024,585.6 1025.3,586.2 1025.9,587.2 1025,587.8 1023,587.5 1018.5,586.2ZM1034,590.2 1037,589.6 1041,590.2 1043.7,591.2 1045,592.2 1045.1,593.2 1041,594 1038,593.8 1034.2,592.2 1033.4,591.2ZM1055.2,596.2 1058,595.7 1061,596 1064,597.2 1064.9,598.2 1064,599.2 1060,599.2 1057,598.2 1055.5,597.2ZM1080.8,602.2 1083,601.4 1088,601.5 1090,602.2 1091.1,603.2 1091.3,604.2 1090.3,605.2 1089,605.6 1086,605.6 1082.3,604.2 1081.1,603.2Z"/>
<path fill="#ede71c" d="M1035.5,590.2 1037,589.9 1040,590.2 1042.8,591.2 1043.9,592.2 1043,593.3 1040,593.7 1038,593.5 1035.1,592.2 1034.5,591.2ZM1057.6,596.2 1059.6,596.2 1062,596.8 1063,597.2 1063.7,598.2 1062,598.8 1058.2,598.2 1056.8,597.2ZM1082,602.2 1085,601.7 1088,601.9 1089.2,602.2 1090.4,603.2 1090.6,604.2 1089,605.3 1086,605.4 1083.1,604.2 1081.9,603.2Z"/>
</g>
<path d="M826.60,77.90V638.30M956.80,77.90V638.30M1086.80,77.90V638.30M1216.30,77.90V638.30" stroke="#f2f2f2" stroke-opacity="0.40" stroke-width="1.90" fill="none"/>
<path d="M803.90,638.30H1330.80M803.90,573.97H1330.80M803.90,509.64H1330.80M803.90,445.31H1330.80M803.90,380.98H1330.80M803.90,316.65H1330.80M803.90,252.32H1330.80M803.90,187.99H1330.80M803.90,123.66H1330.80" stroke="#f2f2f2" stroke-opacity="0.40" stroke-width="1.90" fill="none"/>
<path d="M826.60,638.30v6.40M956.80,638.30v6.40M1086.80,638.30v6.40M1216.30,638.30v6.40M803.90,638.30h-6.40M803.90,573.97h-6.40M803.90,509.64h-6.40M803.90,445.31h-6.40M803.90,380.98h-6.40M803.90,316.65h-6.40M803.90,252.32h-6.40M803.90,187.99h-6.40M803.90,123.66h-6.40" stroke="#000" stroke-width="1.46" fill="none"/>
<rect x="803.90" y="77.90" width="526.90" height="560.40" fill="none" stroke="#000" stroke-width="1.46"/>
<text x="826.60" y="665.00" font-size="19.60" text-anchor="middle">0</text>
<text x="956.80" y="665.00" font-size="19.60" text-anchor="middle">2</text>
<text x="1086.80" y="665.00" font-size="19.60" text-anchor="middle">4</text>
<text x="1216.30" y="665.00" font-size="19.60" text-anchor="middle">6</text>
<text x="790.60" y="645.20" font-size="19.60" text-anchor="end">0</text>
<text x="790.60" y="580.87" font-size="19.60" text-anchor="end">1</text>
<text x="790.60" y="516.54" font-size="19.60" text-anchor="end">2</text>
<text x="790.60" y="452.21" font-size="19.60" text-anchor="end">3</text>
<text x="790.60" y="387.88" font-size="19.60" text-anchor="end">4</text>
<text x="790.60" y="323.55" font-size="19.60" text-anchor="end">5</text>
<text x="790.60" y="259.22" font-size="19.60" text-anchor="end">6</text>
<text x="790.60" y="194.89" font-size="19.60" text-anchor="end">7</text>
<text x="790.60" y="130.56" font-size="19.60" text-anchor="end">8</text>
<text x="1065.80" y="67.00" font-size="30.00" text-anchor="middle">Rectum</text>
<text x="1066.50" y="693.80" font-size="23.80" text-anchor="middle">Distance (cm)</text>
<text transform="translate(764.60,358.30) rotate(-90)" font-size="23.50" text-anchor="middle">Dose (Gy)</text>
<rect x="1363.40" y="78.00" width="28.00" height="560.30" fill="#431e5c"/>
<rect x="1363.40" y="78.00" width="28.00" height="529.17" fill="#462b6f"/>
<rect x="1363.40" y="78.00" width="28.00" height="498.04" fill="#45367f"/>
<rect x="1363.40" y="78.00" width="28.00" height="466.92" fill="#404488"/>
<rect x="1363.40" y="78.00" width="28.00" height="435.79" fill="#3a538c"/>
<rect x="1363.40" y="78.00" width="28.00" height="404.66" fill="#34618d"/>
<rect x="1363.40" y="78.00" width="28.00" height="373.53" fill="#2e6f8e"/>
<rect x="1363.40" y="78.00" width="28.00" height="342.41" fill="#287c8e"/>
<rect x="1363.40" y="78.00" width="28.00" height="311.28" fill="#23898e"/>
<rect x="1363.40" y="78.00" width="28.00" height="280.15" fill="#1f978b"/>
<rect x="1363.40" y="78.00" width="28.00" height="249.02" fill="#20a486"/>
<rect x="1363.40" y="78.00" width="28.00" height="217.89" fill="#2cb17e"/>
<rect x="1363.40" y="78.00" width="28.00" height="186.77" fill="#4bba70"/>
<rect x="1363.40" y="78.00" width="28.00" height="155.64" fill="#6cc061"/>
<rect x="1363.40" y="78.00" width="28.00" height="124.51" fill="#87c650"/>
<rect x="1363.40" y="78.00" width="28.00" height="93.38" fill="#a4ce3f"/>
<rect x="1363.40" y="78.00" width="28.00" height="62.26" fill="#c8da31"/>
<rect x="1363.40" y="78.00" width="28.00" height="31.13" fill="#ede71c"/>
<text x="1403.00" y="645.20" font-size="19.60" text-anchor="start">0.00</text>
<text x="1403.00" y="582.20" font-size="19.60" text-anchor="start">0.12</text>
<text x="1403.00" y="520.00" font-size="19.60" text-anchor="start">0.24</text>
<text x="1403.00" y="458.20" font-size="19.60" text-anchor="start">0.36</text>
<text x="1403.00" y="395.90" font-size="19.60" text-anchor="start">0.48</text>
<text x="1403.00" y="332.10" font-size="19.60" text-anchor="start">0.60</text>
<text x="1403.00" y="269.90" font-size="19.60" text-anchor="start">0.72</text>
<text x="1403.00" y="207.90" font-size="19.60" text-anchor="start">0.84</text>
<text x="1403.00" y="145.60" font-size="19.60" text-anchor="start">0.96</text>
<text x="1403.00" y="83.70" font-size="19.60" text-anchor="start">1.08</text>
<path d="M1391.40,638.30h6.40M1391.40,575.50h6.40M1391.40,513.50h6.40M1391.40,451.70h6.40M1391.40,389.40h6.40M1391.40,325.60h6.40M1391.40,263.40h6.40M1391.40,201.40h6.40M1391.40,139.10h6.40M1391.40,78.00h6.40" stroke="#000" stroke-width="1.46" fill="none"/>
<rect x="1363.40" y="78.00" width="28.00" height="560.30" fill="none" stroke="#000" stroke-width="1.46"/>
<text x="0.9" y="24.5" font-size="29.8" font-family="'Liberation Sans',sans-serif" textLength="16.4" lengthAdjust="spacingAndGlyphs">A</text>
<text x="758.0" y="24.7" font-size="29.8" font-family="'Liberation Sans',sans-serif" textLength="16.1" lengthAdjust="spacingAndGlyphs">B</text>
</svg>
</body></html>
